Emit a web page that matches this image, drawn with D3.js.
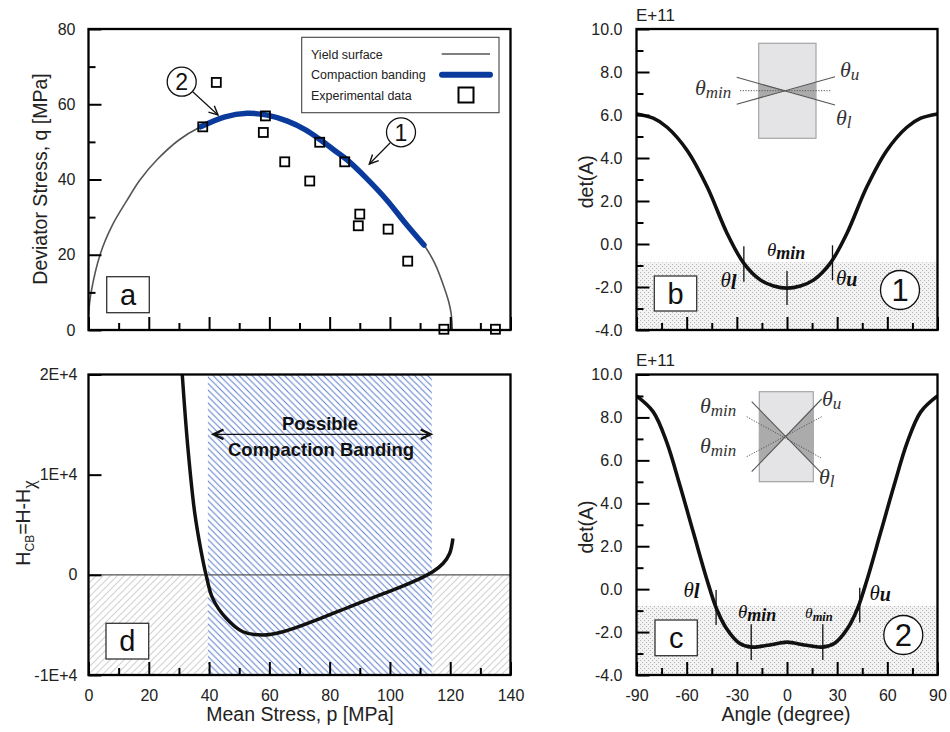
<!DOCTYPE html>
<html>
<head>
<meta charset="utf-8">
<script src="https://cdn.jsdelivr.net/npm/d3@7"></script>
<style>body{margin:0;background:#fff}</style>
</head>
<body>
<div id="chart"></div>
<script>
// ---------- data ----------
// (a) yield surface and experiments
var yieldP = [0, 0.8, 4, 8, 12.8, 17, 22.8, 30, 37.2, 45, 52.6, 59.3, 66, 72, 77, 82, 85.8, 92, 99, 105, 111.3, 115, 117.9, 119.5, 120.3, 120.7];
var yieldQ = [4, 9.7, 20.4, 28, 34.5, 39.8, 45.3, 50.5, 54, 56.6, 57.6, 57.1, 55.5, 53.2, 50.5, 47.5, 45.2, 40.5, 34.5, 28.5, 22.6, 17.5, 11.5, 7.5, 4.4, 0];
var bandFrom = 37.2, bandTo = 111.3;
var expP = [37.9, 42.4, 58.7, 58.0, 65.1, 73.4, 76.7, 85.0, 90.0, 89.5, 99.4, 105.9, 117.9, 135.0];
var expQ = [54.0, 65.8, 56.9, 52.5, 44.7, 39.6, 49.9, 44.7, 30.8, 27.7, 26.8, 18.3, 0.2, 0.2];

// (d) hardening modulus
var hcbP = [31.1, 32.9, 35.2, 37.4, 39.0, 41.2, 45.7, 51.2, 57.8, 64.5, 75.5, 86.6, 97.6, 103.2, 109.8, 114.2, 117.6, 119.8, 120.9];
var hcbH = [20000, 12930, 6280, 2290, 0, -2350, -4350, -5680, -6010, -5680, -4520, -3190, -1900, -1250, -400, 300, 1130, 2130, 3630];
var cbLimits = [39.6, 113.9];

// (b) det(A), point 1
var bAngle = [-90, -80, -71.7, -59.7, -47.7, -35.8, -25.8, -15.8, -8, 0, 8, 15.8, 25.8, 35.8, 47.7, 59.7, 71.7, 80, 90];
var bDet = [6.05, 5.85, 5.43, 4.35, 2.65, 0.49, -0.9, -1.68, -1.95, -2.05, -1.95, -1.68, -0.9, 0.49, 2.65, 4.35, 5.43, 5.85, 6.05];
var bZone = -0.85;
var bMarks = [{a: -25.8, lo: -1.76, hi: -0.1}, {a: 0, lo: -2.84, hi: -1.25}, {a: 27.2, lo: -1.68, hi: -0.06}];

// (c) det(A), point 2
var cAngle = [-90, -80, -72, -64.1, -56.1, -48.1, -42.2, -36.2, -28.2, -21.2, -10.3, 0, 10.3, 21.2, 28.2, 36.2, 42.2, 48.1, 56.1, 64.1, 72, 80, 90];
var cDet = [9.0, 8.26, 6.86, 4.85, 2.67, 0.5, -0.9, -1.83, -2.53, -2.70, -2.6, -2.47, -2.6, -2.70, -2.53, -1.83, -0.9, 0.5, 2.67, 4.85, 6.86, 8.26, 9.0];
var cZone = -0.78;
var cMarks = [{a: -42.4, lo: -1.67, hi: -0.04}, {a: -21.4, lo: -3.30, hi: -1.64}, {a: 21.4, lo: -3.30, hi: -1.64}, {a: 43.5, lo: -1.55, hi: 0.06}];

// ticks
var pMajor = [0, 20, 40, 60, 80, 100, 120, 140], pMinor = [10, 30, 50, 70, 90, 110, 130];
var qMajor = [0, 20, 40, 60, 80], qMinor = [10, 30, 50, 70];
var hMajor = [-10000, 0, 10000, 20000], hLabels = ["-1E+4", "0", "1E+4", "2E+4"];
var detMajor = [-4, -2, 0, 2, 4, 6, 8, 10], detMinor = [-3, -1, 1, 3, 5, 7, 9];
var angMajor = [-90, -60, -30, 0, 30, 60, 90], angMinor = [-75, -45, -15, 15, 45, 75];

// ---------- setup ----------
var sans = "'Liberation Sans', Arial, sans-serif";
var serif = "'Liberation Serif', 'DejaVu Serif', serif";

var svg = d3.select("#chart").append("svg")
    .attr("width", 950).attr("height", 732)
    .style("font-family", sans);

var xP = d3.scaleLinear().domain([0, 140]).range([88.5, 510.5]);
var yQ = d3.scaleLinear().domain([0, 80]).range([330, 29]);
var yH = d3.scaleLinear().domain([-10000, 20000]).range([675, 374.5]);
var xA = d3.scaleLinear().domain([-90, 90]).range([636.5, 937.5]);
var yB = d3.scaleLinear().domain([-4, 10]).range([330, 29]);
var yC = d3.scaleLinear().domain([-4, 10]).range([675, 374.5]);

var defs = svg.append("defs");

var stip = defs.append("pattern").attr("id", "stipple").attr("patternUnits", "userSpaceOnUse")
    .attr("width", 4).attr("height", 4);
stip.append("rect").attr("width", 4).attr("height", 4).attr("fill", "#f3f3f3");
stip.append("rect").attr("x", 0).attr("y", 0).attr("width", 1).attr("height", 1).attr("fill", "#b3b3b3");
stip.append("rect").attr("x", 2).attr("y", 2).attr("width", 1).attr("height", 1).attr("fill", "#b3b3b3");

var gh = defs.append("pattern").attr("id", "grayHatch").attr("patternUnits", "userSpaceOnUse")
    .attr("width", 7).attr("height", 7);
gh.append("path").attr("d", "M-1,8 L8,-1 M-1,1 L1,-1 M6,8 L8,6").attr("stroke", "#d2d2d2").attr("stroke-width", 1.1);

var bh = defs.append("pattern").attr("id", "blueHatch").attr("patternUnits", "userSpaceOnUse")
    .attr("width", 6.5).attr("height", 6.5);
bh.append("rect").attr("width", 6.5).attr("height", 6.5).attr("fill", "#fff");
bh.append("path").attr("d", "M-1,-1 L7.5,7.5 M5.5,-1 L7.5,1 M-1,5.5 L1,7.5").attr("stroke", "#5f80cc")
  .attr("stroke-width", 1.05);

function clip(id, x, y) {
  defs.append("clipPath").attr("id", id).append("rect")
    .attr("x", x.range()[0]).attr("y", y.range()[1])
    .attr("width", x.range()[1] - x.range()[0]).attr("height", y.range()[0] - y.range()[1]);
}
clip("clipA", xP, yQ); clip("clipD", xP, yH); clip("clipB", xA, yB); clip("clipC", xA, yC);

function axes(g, x, y, o) {
  var x0 = x.range()[0], y1 = y.range()[0];
  g.append("g").attr("transform", "translate(" + x0 + ",0)")
    .call(d3.axisLeft(y).tickValues(o.yMajor).tickSizeInner(-13).tickSizeOuter(0)
      .tickPadding(o.yPad).tickFormat(o.yFormat));
  if (o.yMinor) g.append("g").attr("transform", "translate(" + x0 + ",0)")
    .call(d3.axisLeft(y).tickValues(o.yMinor).tickSize(-7).tickFormat(""));
  g.append("g").attr("transform", "translate(0," + y1 + ")")
    .call(d3.axisBottom(x).tickValues(o.xMajor).tickSizeInner(-13).tickSizeOuter(0)
      .tickPadding(15).tickFormat(o.xFormat));
  g.append("g").attr("transform", "translate(0," + y1 + ")")
    .call(d3.axisBottom(x).tickValues(o.xMinor).tickSize(-7).tickFormat(""));
  g.selectAll(".domain").remove();
  g.selectAll(".tick line").attr("stroke", "#000").attr("stroke-width", 2);
  g.selectAll(".tick text").attr("fill", "#222").style("font-size", "16px").style("font-family", sans);
  g.append("rect").attr("x", x.range()[0]).attr("y", y.range()[1])
    .attr("width", x.range()[1] - x.range()[0]).attr("height", y.range()[0] - y.range()[1])
    .attr("fill", "none").attr("stroke", "#000").attr("stroke-width", 2.3);
}

function letterBox(g, x, y, w, h, s) {
  g.append("rect").attr("x", x).attr("y", y).attr("width", w).attr("height", h)
    .attr("fill", "#fff").attr("stroke", "#333").attr("stroke-width", 1.3);
  g.append("text").attr("x", x + w / 2).attr("y", y + h / 2 + 10).attr("text-anchor", "middle")
    .attr("font-size", 29).attr("fill", "#111").text(s);
}

function circled(g, cx, cy, r, s, fs) {
  g.append("circle").attr("cx", cx).attr("cy", cy).attr("r", r)
    .attr("fill", "#fff").attr("stroke", "#111").attr("stroke-width", 1.3);
  g.append("text").attr("x", cx).attr("y", cy + fs * 0.36).attr("text-anchor", "middle")
    .attr("font-size", fs).attr("fill", "#111").text(s);
}

function arrowHead(g, x1, y1, x2, y2, len, w) {
  var ang = Math.atan2(y2 - y1, x2 - x1), sp = 0.45;
  var p = d3.path();
  p.moveTo(x2 - len * Math.cos(ang - sp), y2 - len * Math.sin(ang - sp));
  p.lineTo(x2, y2);
  p.lineTo(x2 - len * Math.cos(ang + sp), y2 - len * Math.sin(ang + sp));
  g.append("path").attr("d", p.toString()).attr("fill", "none").attr("stroke", "#111")
    .attr("stroke-width", w).attr("stroke-linejoin", "miter");
}

function arrow(g, x1, y1, x2, y2) {
  g.append("line").attr("x1", x1).attr("y1", y1).attr("x2", x2).attr("y2", y2)
    .attr("stroke", "#111").attr("stroke-width", 1.2);
  arrowHead(g, x1, y1, x2, y2, 10, 1.4);
}

function theta(g, x, y, sub, size, subSize, bold, dy) {
  var t = g.append("text").attr("x", x).attr("y", y)
    .attr("font-family", serif).attr("font-style", "italic")
    .attr("font-size", size).attr("fill", bold ? "#111" : "#333");
  t.append("tspan").text("θ");
  t.append("tspan").attr("dy", dy).attr("font-size", subSize)
    .attr("font-weight", bold ? "bold" : "normal").text(sub);
}

// ---------- panel a ----------
var ga = svg.append("g");
var pa = ga.append("g").attr("clip-path", "url(#clipA)");
var lineA = d3.line().x(function(d) { return xP(d[0]); }).y(function(d) { return yQ(d[1]); })
  .curve(d3.curveCatmullRom.alpha(0.5));
var yPts = yieldP.map(function(p, i) { return [p, yieldQ[i]]; });
pa.append("path").attr("d", lineA(yPts)).attr("fill", "none")
  .attr("stroke", "#555").attr("stroke-width", 1.6);
pa.append("path").attr("d", lineA(yPts.filter(function(d) { return d[0] >= bandFrom && d[0] <= bandTo; })))
  .attr("fill", "none").attr("stroke", "#0a3b9c").attr("stroke-width", 5.5).attr("stroke-linecap", "round");
ga.selectAll(".exp").data(expP).enter().append("rect")
  .attr("x", function(d) { return xP(d) - 4.5; })
  .attr("y", function(d, i) { return yQ(expQ[i]) - 4.5; })
  .attr("width", 9).attr("height", 9)
  .attr("fill", "none").attr("stroke", "#000").attr("stroke-width", 1.8);

// legend
ga.append("rect").attr("x", 301.7).attr("y", 37.3).attr("width", 197.3).attr("height", 75.4)
  .attr("fill", "#fff").attr("stroke", "#444").attr("stroke-width", 1.1);
var legTxt = ["Yield surface", "Compaction banding", "Experimental data"];
ga.selectAll(".legt").data(legTxt).enter().append("text")
  .attr("x", 311).attr("y", function(d, i) { return 58.5 + i * 20.5; })
  .attr("font-size", 12.5).attr("fill", "#222").text(function(d) { return d; });
ga.append("line").attr("x1", 441.7).attr("x2", 490).attr("y1", 54).attr("y2", 54)
  .attr("stroke", "#555").attr("stroke-width", 1.6);
ga.append("line").attr("x1", 442).attr("x2", 490).attr("y1", 74.7).attr("y2", 74.7)
  .attr("stroke", "#0a3b9c").attr("stroke-width", 6).attr("stroke-linecap", "round");
ga.append("rect").attr("x", 458.5).attr("y", 87.5).attr("width", 15).attr("height", 15)
  .attr("fill", "none").attr("stroke", "#000").attr("stroke-width", 2);

circled(ga, 181.7, 81.7, 14.5, "2", 23);
arrow(ga, 192.7, 91.7, 218, 115);
circled(ga, 401, 132.3, 14.5, "1", 23);
arrow(ga, 390, 143, 369.3, 164);
letterBox(ga, 106.7, 276.7, 42.6, 36, "a");

axes(ga, xP, yQ, {yMajor: qMajor, yMinor: qMinor, yPad: 13, yFormat: function(d) { return d; },
  xMajor: pMajor, xMinor: pMinor, xFormat: ""});

ga.append("text").attr("transform", "translate(47,179) rotate(-90)").attr("text-anchor", "middle")
  .attr("font-size", 19.5).attr("fill", "#222").text("Deviator Stress, q [MPa]");

// ---------- panel d ----------
var gd = svg.append("g");
var pd = gd.append("g").attr("clip-path", "url(#clipD)");
pd.append("rect").attr("x", xP(0)).attr("y", yH(0))
  .attr("width", xP(140) - xP(0)).attr("height", yH(-10000) - yH(0)).attr("fill", "url(#grayHatch)");
pd.append("rect").attr("x", xP(cbLimits[0])).attr("y", yH(20000))
  .attr("width", xP(cbLimits[1]) - xP(cbLimits[0])).attr("height", yH(-10000) - yH(20000))
  .attr("fill", "url(#blueHatch)");
pd.append("line").attr("x1", xP(0)).attr("x2", xP(140)).attr("y1", yH(0)).attr("y2", yH(0))
  .attr("stroke", "#555").attr("stroke-width", 1.1);
var lineD = d3.line().x(function(d) { return xP(d[0]); }).y(function(d) { return yH(d[1]); })
  .curve(d3.curveCatmullRom.alpha(0.5));
pd.append("path").attr("d", lineD(hcbP.map(function(p, i) { return [p, hcbH[i]]; })))
  .attr("fill", "none").attr("stroke", "#111").attr("stroke-width", 3.5);

// double arrow
var ax1 = xP(41.5), ax2 = xP(113.5), ay = 434.3;
gd.append("line").attr("x1", ax1).attr("x2", ax2).attr("y1", ay).attr("y2", ay)
  .attr("stroke", "#111").attr("stroke-width", 1.3);
arrowHead(gd, ax2, ay, ax1, ay, 11, 2.4);
arrowHead(gd, ax1, ay, ax2, ay, 11, 2.4);
gd.append("text").attr("x", 320).attr("y", 429.5).attr("text-anchor", "middle")
  .attr("font-size", 18.5).attr("font-weight", "bold").attr("fill", "#111").text("Possible");
gd.append("text").attr("x", 321).attr("y", 455.5).attr("text-anchor", "middle")
  .attr("font-size", 18.5).attr("font-weight", "bold").attr("fill", "#111").text("Compaction Banding");

letterBox(gd, 106, 623.3, 42.7, 35.7, "d");

axes(gd, xP, yH, {yMajor: hMajor, yMinor: null, yPad: 11,
  yFormat: function(d) { return hLabels[hMajor.indexOf(d)]; },
  xMajor: pMajor, xMinor: pMinor, xFormat: function(d) { return d; }});

var hl = gd.append("text").attr("transform", "translate(30,523) rotate(-90)").attr("text-anchor", "middle")
  .attr("font-size", 19.5).attr("fill", "#222");
hl.append("tspan").text("H");
hl.append("tspan").attr("font-size", 12).attr("dy", 4).text("CB");
hl.append("tspan").attr("dy", -4).text("=H-H");
hl.append("tspan").attr("font-size", 19).attr("dy", 5).attr("font-family", serif).text("χ");

gd.append("text").attr("x", 300).attr("y", 721).attr("text-anchor", "middle")
  .attr("font-size", 19.5).attr("fill", "#222").text("Mean Stress, p [MPa]");

// ---------- panels b and c ----------
function detPanel(y, angle, det, zone, marks, clipId) {
  var g = svg.append("g");
  var p = g.append("g").attr("clip-path", "url(#" + clipId + ")");
  p.append("rect").attr("x", xA(-90)).attr("y", y(zone))
    .attr("width", xA(90) - xA(-90)).attr("height", y(-4) - y(zone)).attr("fill", "url(#stipple)");
  var ln = d3.line().x(function(d) { return xA(d[0]); }).y(function(d) { return y(d[1]); })
    .curve(d3.curveCatmullRom.alpha(0.5));
  p.append("path").attr("d", ln(angle.map(function(a, i) { return [a, det[i]]; })))
    .attr("fill", "none").attr("stroke", "#111").attr("stroke-width", 3.6);
  g.selectAll(".mk").data(marks).enter().append("line")
    .attr("x1", function(d) { return xA(d.a); }).attr("x2", function(d) { return xA(d.a); })
    .attr("y1", function(d) { return y(d.hi); }).attr("y2", function(d) { return y(d.lo); })
    .attr("stroke", "#111").attr("stroke-width", 1.3);
  return g;
}

function inset(g, r, c, wedges, solids, dotted) {
  var cid = "ins" + Math.round(r.y);
  defs.append("clipPath").attr("id", cid).append("rect")
    .attr("x", r.x).attr("y", r.y).attr("width", r.w).attr("height", r.h);
  g.append("rect").attr("x", r.x).attr("y", r.y).attr("width", r.w).attr("height", r.h)
    .attr("fill", "#e4e4e6").attr("stroke", "#a5a5a5").attr("stroke-width", 1.2);
  var wg = g.append("g").attr("clip-path", "url(#" + cid + ")");
  wedges.forEach(function(w) {
    wg.append("path").attr("d", "M" + c[0] + "," + c[1] + "L" + w[0] + "," + w[1] + "L" + w[2] + "," + w[3] + "Z")
      .attr("fill", "#ababab");
  });
  solids.forEach(function(s) {
    g.append("line").attr("x1", s[0]).attr("y1", s[1]).attr("x2", s[2]).attr("y2", s[3])
      .attr("stroke", "#555").attr("stroke-width", 1.1);
  });
  dotted.forEach(function(s) {
    g.append("line").attr("x1", s[0]).attr("y1", s[1]).attr("x2", s[2]).attr("y2", s[3])
      .attr("stroke", "#555").attr("stroke-width", 1).attr("stroke-dasharray", "1.2,1.5");
  });
}

// b
var gb = detPanel(yB, bAngle, bDet, bZone, bMarks, "clipB");
inset(gb, {x: 758.7, y: 43.3, w: 57.3, h: 95}, [786.7, 90.7],
  [[736.7, 77.3, 736.7, 104.3], [835, 105, 835, 76.7]],
  [[736.7, 77.3, 835, 105], [736.7, 104.3, 835, 76.7]],
  [[740, 90.7, 831.7, 90.7]]);
theta(gb, 695, 95, "min", 22, 17, false, 3);
theta(gb, 840, 77, "u", 22, 17, false, 3);
theta(gb, 836, 125, "l", 22, 17, false, 3);
theta(gb, 767, 256, "min", 19, 18, true, 3);
theta(gb, 720.5, 286.7, "l", 21, 21, true, 2);
theta(gb, 836, 285, "u", 21, 20, true, 1);
letterBox(gb, 654.3, 276, 42.4, 35, "b");
circled(gb, 900, 290, 19.5, "1", 31);
axes(gb, xA, yB, {yMajor: detMajor, yMinor: detMinor, yPad: 14, yFormat: function(d) { return d.toFixed(1); },
  xMajor: angMajor, xMinor: angMinor, xFormat: ""});
gb.append("text").attr("x", 636).attr("y", 21).attr("font-size", 17).attr("fill", "#222").text("E+11");
gb.append("text").attr("transform", "translate(593,181.7) rotate(-90)").attr("text-anchor", "middle")
  .attr("font-size", 19.5).attr("fill", "#222").text("det(A)");

// c
var gc = detPanel(yC, cAngle, cDet, cZone, cMarks, "clipC");
inset(gc, {x: 759.3, y: 391.7, w: 54, h: 90}, [785.7, 436.7],
  [[751.7, 401.7, 751.7, 471.7], [821.7, 473.3, 821.7, 399]],
  [[751.7, 401.7, 821.7, 473.3], [751.7, 471.7, 821.7, 399]],
  [[746.7, 416.7, 821.7, 458.3], [746.7, 456.7, 821.7, 416.7]]);
theta(gc, 700, 413, "min", 22, 17, false, 3);
theta(gc, 700, 453, "min", 22, 17, false, 3);
theta(gc, 822, 406, "u", 22, 17, false, 3);
theta(gc, 819, 484, "l", 22, 17, false, 3);
theta(gc, 683.5, 596.7, "l", 21, 21, true, 1);
theta(gc, 738, 618.3, "min", 19, 18, true, 3);
theta(gc, 805, 618, "min", 15.5, 12.5, true, 3);
theta(gc, 869.5, 600, "u", 21, 20, true, 1);
letterBox(gc, 655, 620, 42.3, 35.7, "c");
circled(gc, 903.3, 635, 19.5, "2", 31);
axes(gc, xA, yC, {yMajor: detMajor, yMinor: detMinor, yPad: 14, yFormat: function(d) { return d.toFixed(1); },
  xMajor: angMajor, xMinor: angMinor, xFormat: function(d) { return String(d); }});
gc.append("text").attr("x", 636).attr("y", 365.5).attr("font-size", 17).attr("fill", "#222").text("E+11");
gc.append("text").attr("transform", "translate(593,527) rotate(-90)").attr("text-anchor", "middle")
  .attr("font-size", 19.5).attr("fill", "#222").text("det(A)");
gc.append("text").attr("x", 786).attr("y", 721).attr("text-anchor", "middle")
  .attr("font-size", 19.5).attr("fill", "#222").text("Angle (degree)");
</script>
</body>
</html>
